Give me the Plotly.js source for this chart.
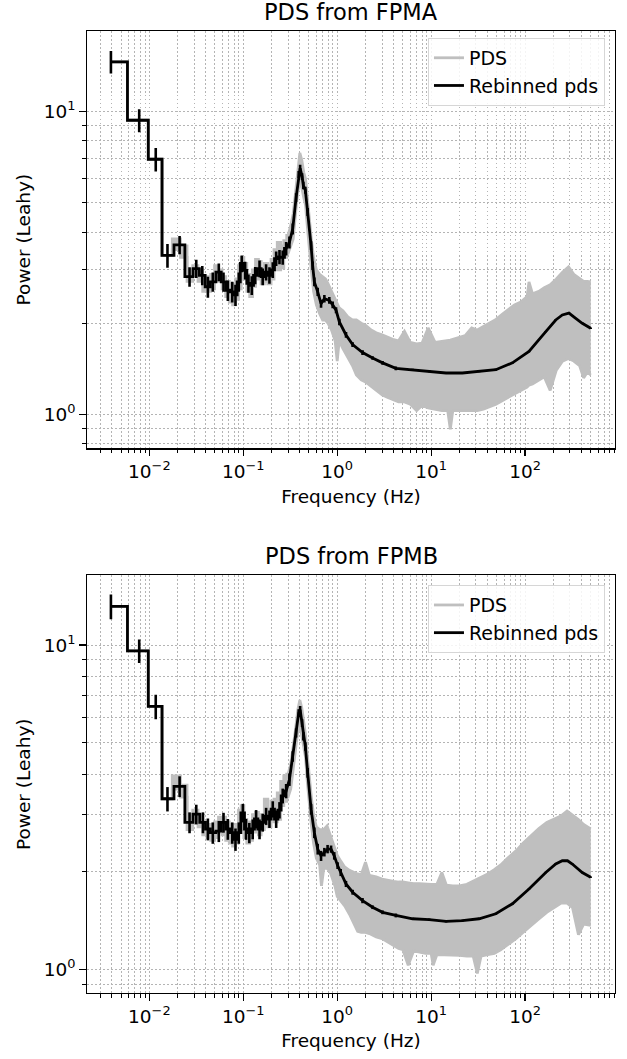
<!DOCTYPE html>
<html>
<head>
<meta charset="utf-8">
<script src="https://cdn.plot.ly/plotly-3.0.1.min.js"></script>
<style>html,body{margin:0;padding:0;background:#fff;}#chart{width:627px;height:1059px;}</style>
</head>
<body>
<div id="chart"></div>
<script>
// ---------------- FPMA ----------------
const freqA = [0.0039,0.0078,0.0117,0.0156,0.021,0.0268,0.0316,0.0366,0.042,0.0474,
  0.0549,0.0616,0.0685,0.0763,0.0826,0.0896,0.0964,0.1047,0.1136,0.1232,
  0.134,0.149,0.161,0.175,0.19,0.206,0.224,0.243,0.263,0.286,
  0.31,0.336,0.365,0.389,0.403,0.423,0.436,0.458,0.485,0.527,
  0.548,0.571,0.62,0.673,0.73,0.824,0.895,0.972,1.054,1.241,
  1.459,1.862,2.38,3.04,4.21,6.34,9.53,14.4,21.5,32.4,
  48.8,73.3,110,166,212,249,293,346,406,499];
const powA = [14.6,9.36,6.96,3.35,3.63,2.85,3.03,2.88,2.64,2.74,
  2.95,2.74,2.57,2.54,2.48,2.74,3.15,2.99,2.71,2.67,
  2.88,3.03,2.85,2.95,2.88,3.0,3.27,3.31,3.3,3.53,
  3.7,4.1,5.2,6.2,6.5,6.1,5.7,5.5,4.66,3.61,
  3.10,2.74,2.54,2.32,2.41,2.38,2.30,2.21,2.02,1.83,
  1.70,1.60,1.535,1.48,1.42,1.405,1.388,1.37,1.37,1.388,
  1.405,1.48,1.614,1.877,2.05,2.13,2.16,2.075,2.0,1.925];
const errA = [1.25,0.82,0.62,0.30,0.25,0.21,0.21,0.21,0.21,0.2,
  0.2,0.2,0.2,0.2,0.2,0.2,0.2,0.2,0.19,0.19,
  0.19,0.19,0.18,0.18,0.18,0.18,0.18,0.18,0.18,0.18,
  0.17,0.17,0.17,0.17,0.17,0.16,0.16,0.15,0.14,0.12,
  0.1,0.09,0.08,0.07,0.07,0.06,0.06,0.05,0.05,0.04,
  0.03,0.03,0.02,0.02,0.02,0.01,0.01,0.01,0.01,0.01,
  0.01,0.01,0.01,0.01,0.01,0.01,0.01,0.01,0.01,0.01];
const pdsFreqA = [0.0039,0.0078,0.0117,0.0156,0.0195,0.0234,0.027,0.031,0.035,0.039,
  0.043,0.047,0.052,0.057,0.062,0.068,0.074,0.080,0.086,0.092,
  0.098,0.105,0.113,0.121,0.13,0.14,0.15,0.16,0.175,0.19,
  0.205,0.22,0.24,0.26,0.28,0.30,0.32,0.34,0.36,0.38,
  0.40,0.42,0.44,0.46,0.48,0.50,0.53,0.56,0.60,0.65,
  0.70,0.75,0.80,0.87,0.95,1.0,1.05,1.15,1.3,1.45,
  1.6,1.8,2.0,2.3,2.6,3.0,3.4,3.9,4.5,5.2,
  6.0,7.0,8.0,9.3,11,13,15,16,17,20,
  23,27,31,36,42,49,57,66,77,90,
  105,110,120,140,160,185,215,250,290,330,
  380,420,460,500];
const pdsHiA = [14.6,9.36,6.96,3.35,3.8,3.6,3.0,3.1,3.0,2.8,
  2.85,2.9,3.1,3.0,2.85,2.75,2.7,2.65,2.8,3.1,
  3.3,3.15,2.9,2.85,3.0,3.25,3.2,3.0,3.15,3.1,
  3.25,3.5,3.7,3.6,3.75,3.9,4.2,4.6,5.4,6.5,
  7.3,6.9,6.3,6.0,5.2,4.4,3.8,3.3,3.0,2.9,
  2.85,2.8,2.7,2.55,2.4,2.3,2.25,2.2,2.1,2.05,
  2.05,2.0,1.97,1.9,1.86,1.83,1.8,1.77,1.75,1.88,
  1.73,1.71,1.72,1.93,1.73,1.74,1.75,1.76,1.77,1.80,
  1.82,1.93,1.90,1.95,2.0,2.06,2.14,2.22,2.3,2.35,
  2.45,2.74,2.5,2.55,2.62,2.68,2.8,2.95,3.07,2.9,
  2.8,2.75,2.75,2.74];
const pdsLoA = [14.6,9.36,6.96,3.35,3.5,3.3,2.75,2.9,2.75,2.55,
  2.55,2.6,2.8,2.75,2.6,2.45,2.35,2.3,2.4,2.6,
  2.9,2.8,2.55,2.45,2.65,2.8,2.8,2.7,2.75,2.7,
  2.8,3.0,3.0,3.05,3.3,3.4,3.6,3.8,4.6,5.4,
  5.9,5.6,5.2,4.9,4.2,3.6,3.0,2.55,2.3,2.15,
  2.05,2.05,2.0,1.9,1.75,1.5,1.75,1.65,1.55,1.45,
  1.35,1.3,1.28,1.24,1.2,1.16,1.14,1.12,1.1,1.1,
  1.08,1.03,1.07,1.05,1.04,1.03,1.03,0.893,1.03,1.03,
  1.03,1.03,1.03,1.04,1.06,1.08,1.11,1.14,1.17,1.2,
  1.23,1.25,1.26,1.3,1.33,1.2,1.4,1.5,1.53,1.5,
  1.45,1.32,1.38,1.35];

// ---------------- FPMB ----------------
const freqB = [0.0039,0.0078,0.0117,0.0156,0.021,0.0268,0.0316,0.0372,0.042,0.0474,
  0.0549,0.0616,0.0685,0.0763,0.0826,0.0896,0.099,0.107,0.116,0.126,
  0.137,0.149,0.161,0.175,0.19,0.206,0.224,0.243,0.263,0.286,
  0.31,0.336,0.365,0.389,0.403,0.423,0.436,0.458,0.485,0.527,
  0.571,0.62,0.673,0.73,0.79,0.86,0.93,1.01,1.09,1.24,
  1.46,1.86,2.38,3.04,4.21,6.34,9.53,14.4,21.5,32.4,
  48.8,73.3,110,166,212,249,283,318,406,499];
const powB = [13.17,9.6,6.47,3.36,3.67,2.84,3.01,2.84,2.71,2.64,
  2.67,2.84,2.71,2.64,2.52,2.64,3.04,2.71,2.64,2.71,
  2.91,2.71,2.84,2.97,2.91,3.12,2.91,3.1,3.43,3.55,
  3.85,4.54,5.36,6.17,6.32,5.75,5.24,4.87,4.04,3.12,
  2.64,2.35,2.24,2.30,2.35,2.35,2.24,2.09,1.99,1.835,
  1.73,1.63,1.555,1.50,1.467,1.433,1.425,1.406,1.414,1.433,
  1.485,1.594,1.771,1.99,2.114,2.163,2.163,2.114,1.99,1.925];
const errB = [1.15,0.8,0.56,0.29,0.27,0.21,0.21,0.21,0.21,0.2,
  0.2,0.2,0.2,0.2,0.2,0.2,0.2,0.2,0.19,0.19,
  0.19,0.19,0.18,0.18,0.18,0.18,0.18,0.18,0.18,0.18,
  0.17,0.17,0.17,0.17,0.17,0.16,0.16,0.15,0.14,0.12,
  0.1,0.09,0.08,0.07,0.07,0.06,0.06,0.05,0.05,0.04,
  0.03,0.03,0.02,0.02,0.02,0.01,0.01,0.01,0.01,0.01,
  0.01,0.01,0.01,0.01,0.01,0.01,0.01,0.01,0.01,0.01];
const pdsFreqB = [0.0039,0.0078,0.0117,0.0156,0.0195,0.0234,0.027,0.031,0.035,0.039,
  0.043,0.047,0.052,0.057,0.062,0.068,0.074,0.080,0.086,0.092,
  0.098,0.105,0.113,0.121,0.13,0.14,0.15,0.16,0.175,0.19,
  0.205,0.22,0.24,0.26,0.28,0.30,0.32,0.34,0.36,0.38,
  0.40,0.42,0.44,0.46,0.48,0.50,0.53,0.56,0.60,0.65,
  0.68,0.72,0.78,0.84,0.9,0.95,1.0,1.1,1.2,1.35,
  1.5,1.65,1.8,2.0,2.2,2.6,3.0,3.5,4.0,4.5,
  5.0,5.7,6.5,7.5,8.7,10,10.5,11.5,13,14.5,
  17,20,24,28,31,34,40,47,55,65,
  80,95,115,140,170,200,240,280,320,370,
  420,500];
const pdsHiB = [13.17,9.6,6.47,3.36,3.95,3.7,3.0,3.1,3.0,2.85,
  2.8,2.8,2.85,2.95,2.95,2.85,2.8,2.7,2.8,3.1,
  3.2,2.9,2.8,2.85,3.0,3.05,2.95,3.0,3.35,3.1,
  3.3,3.35,3.5,3.8,3.95,4.0,4.3,4.8,5.5,6.3,
  6.77,6.4,5.8,5.3,4.6,4.0,3.4,3.0,2.75,2.7,
  2.7,2.7,2.77,2.6,2.45,2.35,2.25,2.15,2.07,2.02,
  1.99,1.97,1.96,2.14,1.95,1.93,1.9,1.88,1.87,1.86,
  1.86,1.85,1.84,1.84,1.83,1.83,1.83,1.83,1.99,1.82,
  1.81,1.81,1.83,1.87,1.9,1.92,1.97,2.03,2.1,2.2,
  2.32,2.45,2.58,2.72,2.84,2.9,2.97,3.08,3.0,2.9,
  2.8,2.71];
const pdsLoB = [13.17,9.6,6.47,3.36,3.6,3.4,2.7,2.85,2.75,2.6,
  2.55,2.5,2.55,2.65,2.6,2.5,2.45,2.4,2.45,2.7,
  2.8,2.55,2.45,2.5,2.7,2.65,2.6,2.7,2.8,2.75,
  2.9,2.85,2.9,3.2,3.3,3.4,3.6,4.1,4.7,5.4,
  5.7,5.3,4.9,4.5,3.8,3.3,2.8,2.45,2.2,2.1,
  1.81,2.05,2.05,2.0,1.9,1.8,1.68,1.62,1.57,1.48,
  1.38,1.31,1.3,1.3,1.29,1.26,1.245,1.21,1.18,1.16,
  1.15,1.03,1.14,1.13,1.12,1.12,1.03,1.11,1.11,1.11,
  1.105,1.105,1.1,1.1,0.972,1.1,1.11,1.12,1.15,1.19,
  1.245,1.3,1.367,1.43,1.5,1.55,1.6,1.6,1.55,1.28,
  1.38,1.367];

// ---------------- axis ticks ----------------
const xMajorVals = [0.01, 0.1, 1, 10, 100];
const xMajorText = ['10<sup>\u22122</sup>', '10<sup>\u22121</sup>', '10<sup>0</sup>', '10<sup>1</sup>', '10<sup>2</sup>'];
const yMajorVals = [1, 10];
const yMajorText = ['10<sup>0</sup>', '10<sup>1</sup>'];
const subMult = [2, 3, 4, 5, 6, 7, 8, 9];
const decades = [0.001, 0.01, 0.1, 1, 10, 100];
const xMinorVals = [];
decades.forEach(d => subMult.forEach(m => xMinorVals.push(m * d)));
const yMinorVals = [0.8, 0.9, 2, 3, 4, 5, 6, 7, 8, 9];

// steps-mid path (midpoints in data space, as matplotlib does) where bins are
// sparse; above `cut` the real bins are sub-pixel so the path is drawn point to point
const STEP_CUT = 0.3;
function stepsMid(x, y) {
  const xs = [x[0]], ys = [y[0]];
  for (let i = 1; i < x.length; i++) {
    if (x[i] <= STEP_CUT) {
      const m = (x[i - 1] + x[i]) / 2;
      xs.push(m, m); ys.push(y[i - 1], y[i]);
    }
    xs.push(x[i]); ys.push(y[i]);
  }
  return {x: xs, y: ys};
}

const GRAY = '#bfbfbf';
const LW = 2.8;

function panelTraces(pf, hi, lo, f, p, e, xa, ya, lg) {
  const h = stepsMid(pf, hi), l = stepsMid(pf, lo), r = stepsMid(f, p);
  return [
    {type: 'scatter', mode: 'lines', x: h.x, y: h.y, xaxis: xa, yaxis: ya, legend: lg,
     name: 'PDS', line: {color: GRAY, width: LW}, showlegend: true, hoverinfo: 'skip'},
    {type: 'scatter', mode: 'lines', x: l.x, y: l.y, xaxis: xa, yaxis: ya, legend: lg,
     name: 'PDS low', line: {color: GRAY, width: LW}, fill: 'tonexty', fillcolor: GRAY,
     showlegend: false, hoverinfo: 'skip'},
    {type: 'scatter', mode: 'markers', x: f, y: p, xaxis: xa, yaxis: ya, legend: lg,
     marker: {size: 1, color: 'rgba(0,0,0,0)'}, showlegend: false, hoverinfo: 'skip',
     error_y: {type: 'data', array: e, visible: true, color: '#000', thickness: 2.6, width: 0}},
    {type: 'scatter', mode: 'lines', x: r.x, y: r.y, xaxis: xa, yaxis: ya, legend: lg,
     name: 'Rebinned pds', line: {color: '#000', width: LW}, showlegend: true, hoverinfo: 'skip'}
  ];
}

const traces = [].concat(
  panelTraces(pdsFreqA, pdsHiA, pdsLoA, freqA, powA, errA, 'x', 'y', 'legend'),
  panelTraces(pdsFreqB, pdsHiB, pdsLoB, freqB, powB, errB, 'x2', 'y2', 'legend2')
);

const GRIDC = '#b4b4b4';
const GRIDDASH = '1.5px,2.5px';
function xAxis(anchor) {
  return {
    type: 'log', anchor: anchor, domain: [0, 1],
    range: [Math.log10(0.00217), Math.log10(906)],
    showline: true, linecolor: '#000', linewidth: 1.3, mirror: true,
    ticks: 'outside', ticklen: 6.5, tickwidth: 1.3, tickcolor: '#000',
    tickmode: 'array', tickvals: xMajorVals, ticktext: xMajorText,
    showgrid: true, gridcolor: GRIDC, gridwidth: 1, griddash: GRIDDASH, zeroline: false,
    minor: {tickmode: 'array', tickvals: xMinorVals, ticks: 'outside', ticklen: 3.8, tickwidth: 1,
            tickcolor: '#000', showgrid: true, gridcolor: GRIDC, gridwidth: 1, griddash: GRIDDASH},
    title: {text: 'Frequency (Hz)', standoff: 8, font: {size: 18.5}},
    automargin: true
  };
}
function yAxis(anchor, domain, range) {
  return {
    type: 'log', anchor: anchor, domain: domain, range: range,
    showline: true, linecolor: '#000', linewidth: 1.3, mirror: true,
    ticks: 'outside', ticklen: 6.5, tickwidth: 1.3, tickcolor: '#000',
    tickmode: 'array', tickvals: yMajorVals, ticktext: yMajorText,
    showgrid: true, gridcolor: GRIDC, gridwidth: 1, griddash: GRIDDASH, zeroline: false,
    minor: {tickmode: 'array', tickvals: yMinorVals, ticks: 'outside', ticklen: 3.8, tickwidth: 1,
            tickcolor: '#000', showgrid: true, gridcolor: GRIDC, gridwidth: 1, griddash: GRIDDASH},
    title: {text: 'Power (Leahy)', standoff: 8, font: {size: 18.5}},
    automargin: true
  };
}
const legendStyle = {
  xanchor: 'right', yanchor: 'top', x: 0.981, traceorder: 'normal',
  bgcolor: 'rgba(255,255,255,0.85)', bordercolor: '#d6d6d6', borderwidth: 1,
  font: {size: 19, color: '#000'}, tracegroupgap: 0
};

const layout = {
  width: 627, height: 1059,
  margin: {l: 87, r: 11, t: 31, b: 61, pad: 0},
  paper_bgcolor: '#fff', plot_bgcolor: '#fff',
  font: {family: 'DejaVu Sans, sans-serif', size: 18.5, color: '#000'},
  showlegend: true,
  xaxis: xAxis('y'),
  yaxis: yAxis('x', [0.5663, 1], [-0.1116, 1.266]),
  xaxis2: xAxis('y2'),
  yaxis2: yAxis('x2', [0, 0.434], [-0.0727, 1.2147]),
  legend: Object.assign({}, legendStyle, {y: 0.9928}),
  legend2: Object.assign({}, legendStyle, {y: 0.424}),
  annotations: [
    {text: 'PDS from FPMA', xref: 'paper', yref: 'paper', x: 0.5, y: 1, xanchor: 'center', yanchor: 'bottom',
     yshift: 4, showarrow: false, font: {size: 22.5, color: '#000'}},
    {text: 'PDS from FPMB', xref: 'paper', yref: 'paper', x: 0.5, y: 0.434, xanchor: 'center', yanchor: 'bottom',
     yshift: 4, showarrow: false, font: {size: 22.5, color: '#000'}}
  ]
};

Plotly.newPlot('chart', traces, layout, {displayModeBar: false, staticPlot: true});
</script>
</body>
</html>
